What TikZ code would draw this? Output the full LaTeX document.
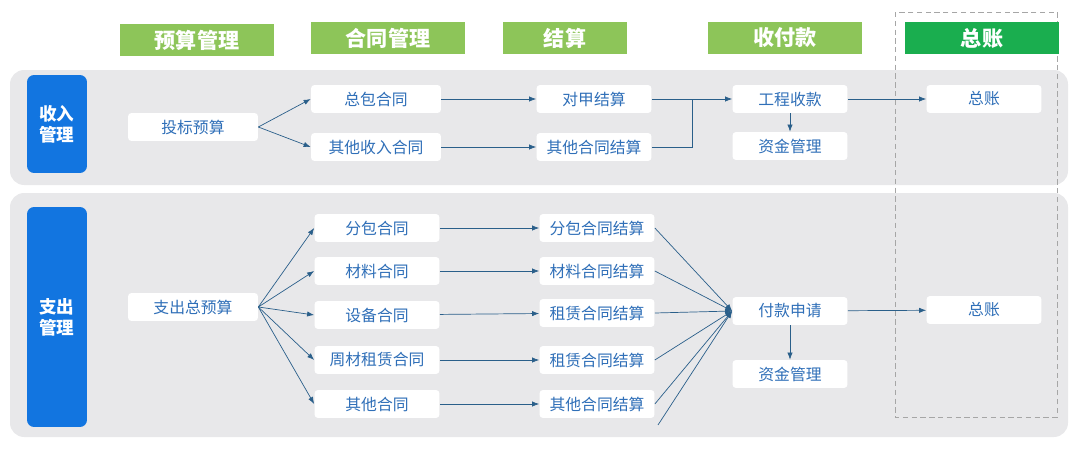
\documentclass[tikz,border=0pt]{standalone}
\usepackage{fontspec}
\newfontfamily\cjk{Noto Sans CJK SC}
\usetikzlibrary{positioning,arrows.meta}
\definecolor{hdrgreen}{HTML}{8DC559}
\definecolor{hdrdark}{HTML}{1AAE4F}
\definecolor{band}{HTML}{E8E8EA}
\definecolor{sideblue}{HTML}{1275E0}
\definecolor{txtblue}{HTML}{2F6FB8}
\definecolor{arrowc}{HTML}{2A5F8A}
\tikzset{
  hdr/.style={fill=hdrgreen, minimum width=3.1cm, minimum height=0.6cm, text=white, font=\cjk\bfseries\large},
  side/.style={fill=sideblue, rounded corners=4pt, minimum width=1.2cm, text=white, font=\cjk\bfseries, align=center},
  box/.style={fill=white, rounded corners=2pt, minimum height=0.56cm, text=txtblue, font=\cjk\small},
  arr/.style={draw=arrowc, -{Latex[length=4pt]}},
}
\begin{document}
\begin{tikzpicture}[x=0.02cm, y=-0.02cm]
  \useasboundingbox (0,0) rectangle (1080,453);
  % bands
  \fill[band, rounded corners=8pt] (10,70) rectangle (1068,185);
  \fill[band, rounded corners=8pt] (10,193) rectangle (1068,437);
  \draw[gray!70, densely dashed] (895,12) rectangle (1057,417);
  % headers
  \node[hdr] (h1) at (197,40) {预算管理};
  \node[hdr] (h2) at (388,38) {合同管理};
  \node[hdr, minimum width=2.5cm] (h3) at (565,38) {结算};
  \node[hdr] (h4) at (785,38) {收付款};
  \node[hdr, fill=hdrdark] (h5) at (982,38) {总账};
  % side labels
  \node[side, minimum height=1.96cm] (inc) at (57,124) {收入\\管理};
  \node[side, minimum height=4.4cm] (exp) at (57,317) {支出\\管理};
  % income
  \node[box, minimum width=2.6cm] (tb) at (193,127) {投标预算};
  \node[box, minimum width=2.6cm] (zb) at (376,99) {总包合同};
  \node[box, minimum width=2.6cm] (qs) at (376,147) {其他收入合同};
  \node[box, minimum width=2.3cm] (dj) at (594,99) {对甲结算};
  \node[box, minimum width=2.3cm] (qj) at (594,147) {其他合同结算};
  \node[box, minimum width=2.3cm] (gs) at (790,99) {工程收款};
  \node[box, minimum width=2.3cm] (zj1) at (790,146) {资金管理};
  \node[box, minimum width=2.3cm] (zz1) at (984,99) {总账};
  \draw[arr] (tb.east) -- (zb.west);
  \draw[arr] (tb.east) -- (qs.west);
  \draw[arr] (zb) -- (dj);
  \draw[arr] (qs) -- (qj);
  \draw[arr] (dj) -- (gs);
  \draw[arrowc] (qj.east) -| (692,99);
  \draw[arr] (gs) -- (zj1);
  \draw[arr] (gs) -- (zz1);
  % expense
  \node[box, minimum width=2.6cm] (zc) at (193,307) {支出总预算};
  \foreach \n/\y/\t in {c1/228/分包合同, c2/271/材料合同, c3/315/设备合同, c4/360/周材租赁合同, c5/404/其他合同}
    {\node[box, minimum width=2.5cm] (\n) at (377,\y) {\t};
     \draw[arr] (zc.east) -- (\n.west);}
  \foreach \n/\y/\t in {s1/228/分包合同结算, s2/271/材料合同结算, s3/313/租赁合同结算, s4/360/租赁合同结算, s5/404/其他合同结算}
    {\node[box, minimum width=2.3cm] (\n) at (597,\y) {\t};}
  \node[box, minimum width=2.3cm] (fk) at (790,311) {付款申请};
  \node[box, minimum width=2.3cm] (zj2) at (790,374) {资金管理};
  \node[box, minimum width=2.3cm] (zz2) at (984,310) {总账};
  \coordinate (hub) at (fk.west);
  \coordinate (tail) at (658,425);
  \foreach \i in {1,...,5} {\draw[arr] (c\i) -- (s\i); \draw[arr] (s\i.east) -- (hub);}
  \draw[arr] (tail) -- (hub);
  \draw[arr] (fk) -- (zj2);
  \draw[arr] (fk) -- (zz2);
\end{tikzpicture}
\end{document}
